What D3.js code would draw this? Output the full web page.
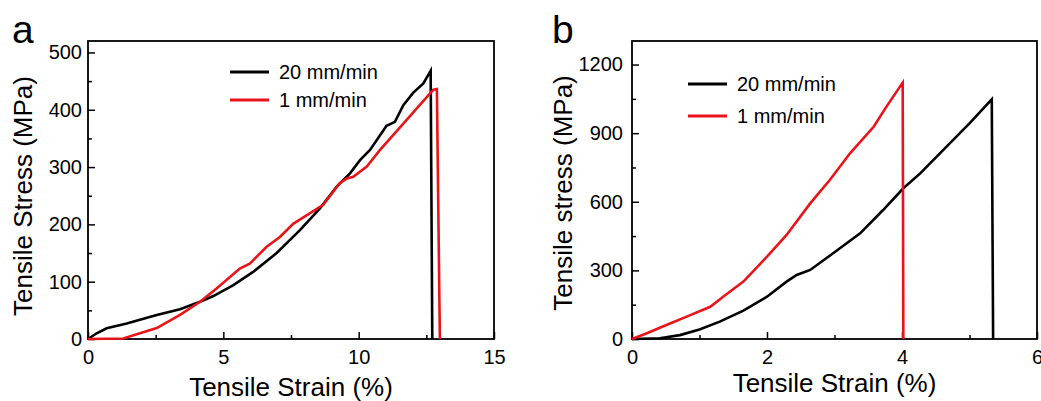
<!DOCTYPE html>
<html>
<head>
<meta charset="UTF-8">
<script src="https://d3js.org/d3.v7.min.js"></script>
<style>
  body { margin: 0; background: #fff; }
  svg { display: block; font-family: Arial, "Liberation Sans", sans-serif; }
  .tick text { font-size: 20px; fill: #000; }
</style>
</head>
<body>
<svg id="fig" width="1041" height="401"></svg>
<script>
// panel a: [strain %, stress MPa]
const a20 = [[0,0],[0.32,10],[0.69,18.6],[1.43,27],[2.54,42],[3.4,52],[4.14,65],[4.63,75],[5.37,94],
  [6.1,117],[6.97,150],[7.83,190],[8.57,228],[9.19,266],[9.68,289],[10.05,312],[10.42,330],[11.03,372],
  [11.34,379],[11.65,408],[12.02,430],[12.39,446],[12.66,468],[12.72,0]];
const a1 = [[0,0],[1.3,1],[1.92,10],[2.54,19],[3.4,42],[4.14,65],[4.75,88],[5.61,123],[5.99,132],
  [6.6,161],[7.09,178],[7.58,201],[8.69,234],[9.3,272],[9.56,280],[9.8,283],[10.3,301],[10.79,330],
  [11.65,376],[12.76,435],[12.89,436],[13.0,0]];
// panel b
const b20 = [[0,0],[0.41,3],[0.71,17],[1.0,42],[1.3,76],[1.65,124],[2.0,185],[2.29,251],[2.44,280],
  [2.64,302],[2.98,375],[3.38,462],[3.72,564],[4.02,659],[4.27,724],[4.66,841],[5.0,943],[5.33,1048],[5.35,0]];
const b1 = [[0,0],[0.22,25],[0.51,61],[0.81,98],[1.16,141],[1.35,185],[1.65,251],[2.0,360],[2.29,455],
  [2.64,593],[2.93,695],[3.23,812],[3.58,928],[3.77,1016],[4.01,1121],[4.02,0]];

const seriesNames = ["20 mm/min", "1 mm/min"];
const seriesColors = ["#000000", "#e8141a"];

const aXTicks = [0, 5, 10, 15], aYTicks = [0, 100, 200, 300, 400, 500];
const bXTicks = [0, 2, 4, 6], bYTicks = [0, 300, 600, 900, 1200];

const svg = d3.select("#fig");

function panel(cfg) {
  const x = d3.scaleLinear().domain(cfg.xDom).range([cfg.left, cfg.right]);
  const y = d3.scaleLinear().domain(cfg.yDom).range([cfg.bottom, cfg.top]);
  const g = svg.append("g");

  // minor ticks
  const xMinor = d3.range(cfg.xDom[0] + cfg.xStep / 2, cfg.xDom[1], cfg.xStep);
  const yMinor = d3.range(cfg.yStep / 2, cfg.yDom[1], cfg.yStep);
  g.append("g").attr("transform", `translate(0,${cfg.bottom})`)
    .call(d3.axisBottom(x).tickValues(xMinor).tickSize(-4).tickFormat(""))
    .call(s => s.select(".domain").remove())
    .selectAll("line").attr("stroke-width", 1.5);
  g.append("g").attr("transform", `translate(${cfg.left},0)`)
    .call(d3.axisLeft(y).tickValues(yMinor).tickSize(-4).tickFormat(""))
    .call(s => s.select(".domain").remove())
    .selectAll("line").attr("stroke-width", 1.5);

  // major ticks
  g.append("g").attr("transform", `translate(0,${cfg.bottom})`)
    .call(d3.axisBottom(x).tickValues(cfg.xTicks).tickSize(-7).tickPadding(12).tickFormat(d3.format("d")))
    .call(s => s.select(".domain").remove())
    .call(s => s.selectAll("line").attr("stroke-width", 1.5))
    .call(s => s.selectAll("text").attr("y", 11).attr("dy", "0.71em"));
  g.append("g").attr("transform", `translate(${cfg.left},0)`)
    .call(d3.axisLeft(y).tickValues(cfg.yTicks).tickSize(-7).tickPadding(cfg.yPad).tickFormat(d3.format("d")))
    .call(s => s.select(".domain").remove())
    .call(s => s.selectAll("line").attr("stroke-width", 1.5))
    .call(s => s.selectAll("text").attr("x", -cfg.yPad));

  // frame
  g.append("rect")
    .attr("x", cfg.left).attr("y", cfg.top)
    .attr("width", cfg.right - cfg.left).attr("height", cfg.bottom - cfg.top)
    .attr("fill", "none").attr("stroke", "#000").attr("stroke-width", 1.8);

  const line = d3.line().x(d => x(d[0])).y(d => y(d[1]));
  cfg.data.forEach((d, i) => {
    g.append("path").datum(d)
      .attr("d", line)
      .attr("fill", "none")
      .attr("stroke", seriesColors[i])
      .attr("stroke-width", 2.6)
      .attr("stroke-linejoin", "miter");
  });

  // legend
  seriesNames.forEach((name, i) => {
    const ly = cfg.legY + i * cfg.legGap;
    g.append("line")
      .attr("x1", cfg.legX).attr("x2", cfg.legX + 39)
      .attr("y1", ly).attr("y2", ly)
      .attr("stroke", seriesColors[i]).attr("stroke-width", 3);
    g.append("text")
      .attr("x", cfg.legX + 49).attr("y", ly + 7)
      .attr("font-size", 20).text(name);
  });

  // axis titles
  g.append("text")
    .attr("x", (cfg.left + cfg.right) / 2 + cfg.xtOff).attr("y", cfg.xtY)
    .attr("text-anchor", "middle").attr("font-size", 26)
    .text("Tensile Strain (%)");
  g.append("text")
    .attr("transform", `translate(${cfg.ytX},${cfg.ytY}) rotate(-90)`)
    .attr("text-anchor", "middle").attr("font-size", 26)
    .text(cfg.yTitle);

  // panel letter
  g.append("text")
    .attr("x", cfg.letterX).attr("y", 43)
    .attr("font-size", 39)
    .text(cfg.letter);
}

panel({
  data: [a20, a1], xDom: [0, 15], yDom: [0, 520], xTicks: aXTicks, yTicks: aYTicks,
  xStep: 5, yStep: 100, left: 88, right: 494, top: 41, bottom: 339, yPad: 6,
  legX: 230, legY: 72, legGap: 28, xtOff: 0, xtY: 396, ytX: 32, ytY: 196,
  yTitle: "Tensile Stress (MPa)", letter: "a", letterX: 12
});
panel({
  data: [b20, b1], xDom: [0, 6], yDom: [0, 1303], xTicks: bXTicks, yTicks: bYTicks,
  xStep: 2, yStep: 300, left: 632, right: 1037, top: 41, bottom: 339, yPad: 9,
  legX: 688, legY: 84, legGap: 32, xtOff: 0, xtY: 392, ytX: 572, ytY: 193,
  yTitle: "Tensile stress (MPa)", letter: "b", letterX: 552
});
</script>
</body>
</html>
